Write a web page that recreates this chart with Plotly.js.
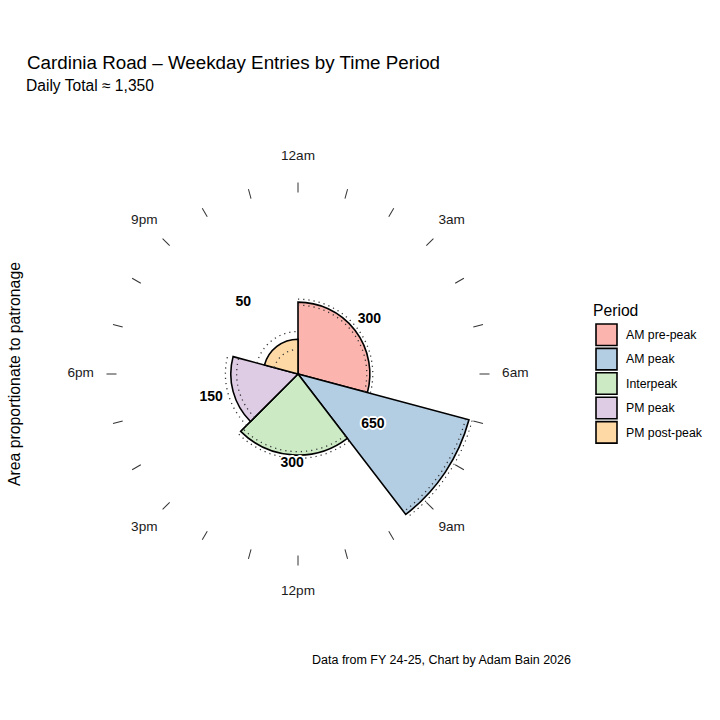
<!DOCTYPE html>
<html>
<head>
<meta charset="utf-8">
<script src="https://cdn.plot.ly/plotly-3.0.1.min.js"></script>
<style>
  html, body { margin: 0; padding: 0; background: #fff; }
  #chart { width: 720px; height: 720px; }
</style>
</head>
<body>
<div id="chart"></div>
<script>
// periods of the weekday, with entries (rounded to 50) and the rounding band
var periods   = ['AM pre-peak', 'AM peak', 'Interpeak', 'PM peak', 'PM post-peak'];
var entries   = [300, 650, 300, 150, 50];
var lowBand   = [275, 625, 275, 125, 25];
var highBand  = [325, 675, 325, 175, 75];
var startHour = [0, 7, 9.5, 15, 19];
var endHour   = [7, 9.5, 15, 19, 24];
var colours   = ['#FBB4AE', '#B3CDE3', '#CCEBC5', '#DECBE4', '#FED9A6'];

var clockLabels = ['12am', '3am', '6am', '9am', '12pm', '3pm', '6pm', '9pm'];
var clockHours  = [0, 3, 6, 9, 12, 15, 18, 21];

var FONT = 'Liberation Sans, Arial, Helvetica, sans-serif';
var W = 720, H = 720;

// area of each wedge proportional to entries -> r = sqrt(entries / hours)
function rad(v, i) { return Math.sqrt(v / (endHour[i] - startHour[i])); }

// polar area: centre (298, 374), radius 181 px; outer one for clock labels
var cx = 298, cy = 374, R = 181, R2 = 240;
var rMax = 16.49;              // radial range of the inner polar
var rMax2 = rMax * R2 / R;     // same scale on the outer polar
var labelR = 8.2;              // value labels
var clockR = 19.8;             // clock labels outside the ticks

var theta = [], width = [], rBar = [];
for (var i = 0; i < periods.length; i++) {
  theta.push((startHour[i] + endHour[i]) / 2 * 15);
  width.push((endHour[i] - startHour[i]) * 15);
  rBar.push(rad(entries[i], i));
}

var traces = [];
traces.push({
  type: 'barpolar',
  r: rBar,
  theta: theta,
  width: width,
  marker: { color: colours, line: { color: '#000', width: 1.6 } },
  showlegend: false,
  hoverinfo: 'skip'
});

// dotted arcs for the rounding band
function arc(vals, i) {
  var th = [], rr = [];
  var a0 = startHour[i] * 15, a1 = endHour[i] * 15;
  for (var a = a0; a <= a1 + 0.001; a += 1) { th.push(a); rr.push(rad(vals[i], i)); }
  return {
    type: 'scatterpolar', mode: 'lines', r: rr, theta: th,
    line: { color: '#333', width: 1.3, dash: '1.2px,4px' },
    cliponaxis: false, showlegend: false, hoverinfo: 'skip'
  };
}
for (var j = 0; j < periods.length; j++) {
  traces.push(arc(lowBand, j));
  traces.push(arc(highBand, j));
}

// value labels
traces.push({
  type: 'scatterpolar', mode: 'text',
  r: periods.map(function () { return labelR; }),
  theta: theta,
  text: entries.map(function (v) { return v.toLocaleString('en-US'); }),
  textfont: {
    family: FONT, size: 14, color: '#000', weight: 'bold',
    shadow: '1px 1px 0 #fff, -1px -1px 0 #fff, 1px -1px 0 #fff, -1px 1px 0 #fff, 2px 0 0 #fff, -2px 0 0 #fff, 0 2px 0 #fff, 0 -2px 0 #fff'
  },
  cliponaxis: false, showlegend: false, hoverinfo: 'skip'
});

// clock labels on the outer polar
traces.push({
  type: 'scatterpolar', mode: 'text', subplot: 'polar2',
  r: clockHours.map(function () { return clockR; }),
  theta: clockHours.map(function (h) { return h * 15; }),
  text: clockLabels,
  textfont: { family: FONT, size: 13.6, color: '#1a1a1a' },
  cliponaxis: false, showlegend: false, hoverinfo: 'skip'
});

var hourTicks = [];
for (var h = 0; h < 24; h++) hourTicks.push(h * 15);

var shapes = [], annotations = [];

annotations.push({
  text: 'Daily Total ≈ 1,350', xref: 'paper', yref: 'paper',
  x: 24 / W, y: 1 - 85 / H, xanchor: 'left', yanchor: 'middle',
  showarrow: false, font: { family: FONT, size: 15.6, color: '#000' }
});
annotations.push({
  text: 'Area proportionate to patronage', xref: 'paper', yref: 'paper',
  x: 14 / W, y: 1 - 374 / H, xanchor: 'center', yanchor: 'middle', textangle: -90,
  showarrow: false, font: { family: FONT, size: 15.8, color: '#000' }
});
annotations.push({
  text: 'Data from FY 24-25, Chart by Adam Bain 2026', xref: 'paper', yref: 'paper',
  x: 573 / W, y: 1 - 660 / H, xanchor: 'right', yanchor: 'middle',
  showarrow: false, font: { family: FONT, size: 12.5, color: '#000' }
});

// legend
annotations.push({
  text: 'Period', xref: 'paper', yref: 'paper',
  x: 591 / W, y: 1 - 310 / H, xanchor: 'left', yanchor: 'middle',
  showarrow: false, font: { family: FONT, size: 15.7, color: '#000' }
});
for (var k = 0; k < periods.length; k++) {
  var rowTop = 324 + k * 24.4;
  shapes.push({
    type: 'rect', xref: 'paper', yref: 'paper',
    x0: 596 / W, x1: 617 / W, y0: 1 - rowTop / H, y1: 1 - (rowTop + 21.5) / H,
    fillcolor: colours[k], line: { color: '#000', width: 1.6 }
  });
  annotations.push({
    text: periods[k], xref: 'paper', yref: 'paper',
    x: 624 / W, y: 1 - (rowTop + 11) / H, xanchor: 'left', yanchor: 'middle',
    showarrow: false, font: { family: FONT, size: 12.3, color: '#000' }
  });
}

var hiddenAngular = {
  rotation: 90, direction: 'clockwise', thetaunit: 'degrees',
  ticks: '', showticklabels: false, showline: false, showgrid: false
};
var hiddenRadial = { visible: false, showgrid: false, showline: false, showticklabels: false, ticks: '' };

var layout = {
  width: W, height: H,
  margin: { l: 0, r: 0, t: 0, b: 0 },
  paper_bgcolor: '#fff',
  showlegend: false,
  title: {
    text: 'Cardinia Road – Weekday Entries by Time Period',
    x: 27 / W, xanchor: 'left', xref: 'paper',
    y: 1 - 62 / H, yanchor: 'middle', yref: 'paper',
    font: { family: FONT, size: 18.8, color: '#000' }
  },
  polar2: {
    domain: { x: [(cx - R2) / W, (cx + R2) / W], y: [1 - (cy + R2) / H, 1 - (cy - R2) / H] },
    bgcolor: 'rgba(0,0,0,0)',
    angularaxis: hiddenAngular,
    radialaxis: Object.assign({ range: [0, rMax2] }, hiddenRadial)
  },
  polar: {
    domain: { x: [(cx - R) / W, (cx + R) / W], y: [1 - (cy + R) / H, 1 - (cy - R) / H] },
    bgcolor: 'rgba(0,0,0,0)',
    bargap: 0,
    angularaxis: {
      rotation: 90, direction: 'clockwise', thetaunit: 'degrees',
      tickmode: 'array', tickvals: hourTicks,
      ticks: 'outside', ticklen: 10, tickwidth: 1, tickcolor: '#333',
      showticklabels: false, showline: false, showgrid: false
    },
    radialaxis: Object.assign({ range: [0, rMax] }, hiddenRadial)
  },
  shapes: shapes,
  annotations: annotations
};

Plotly.newPlot('chart', traces, layout, { staticPlot: true, displayModeBar: false });
</script>
</body>
</html>
